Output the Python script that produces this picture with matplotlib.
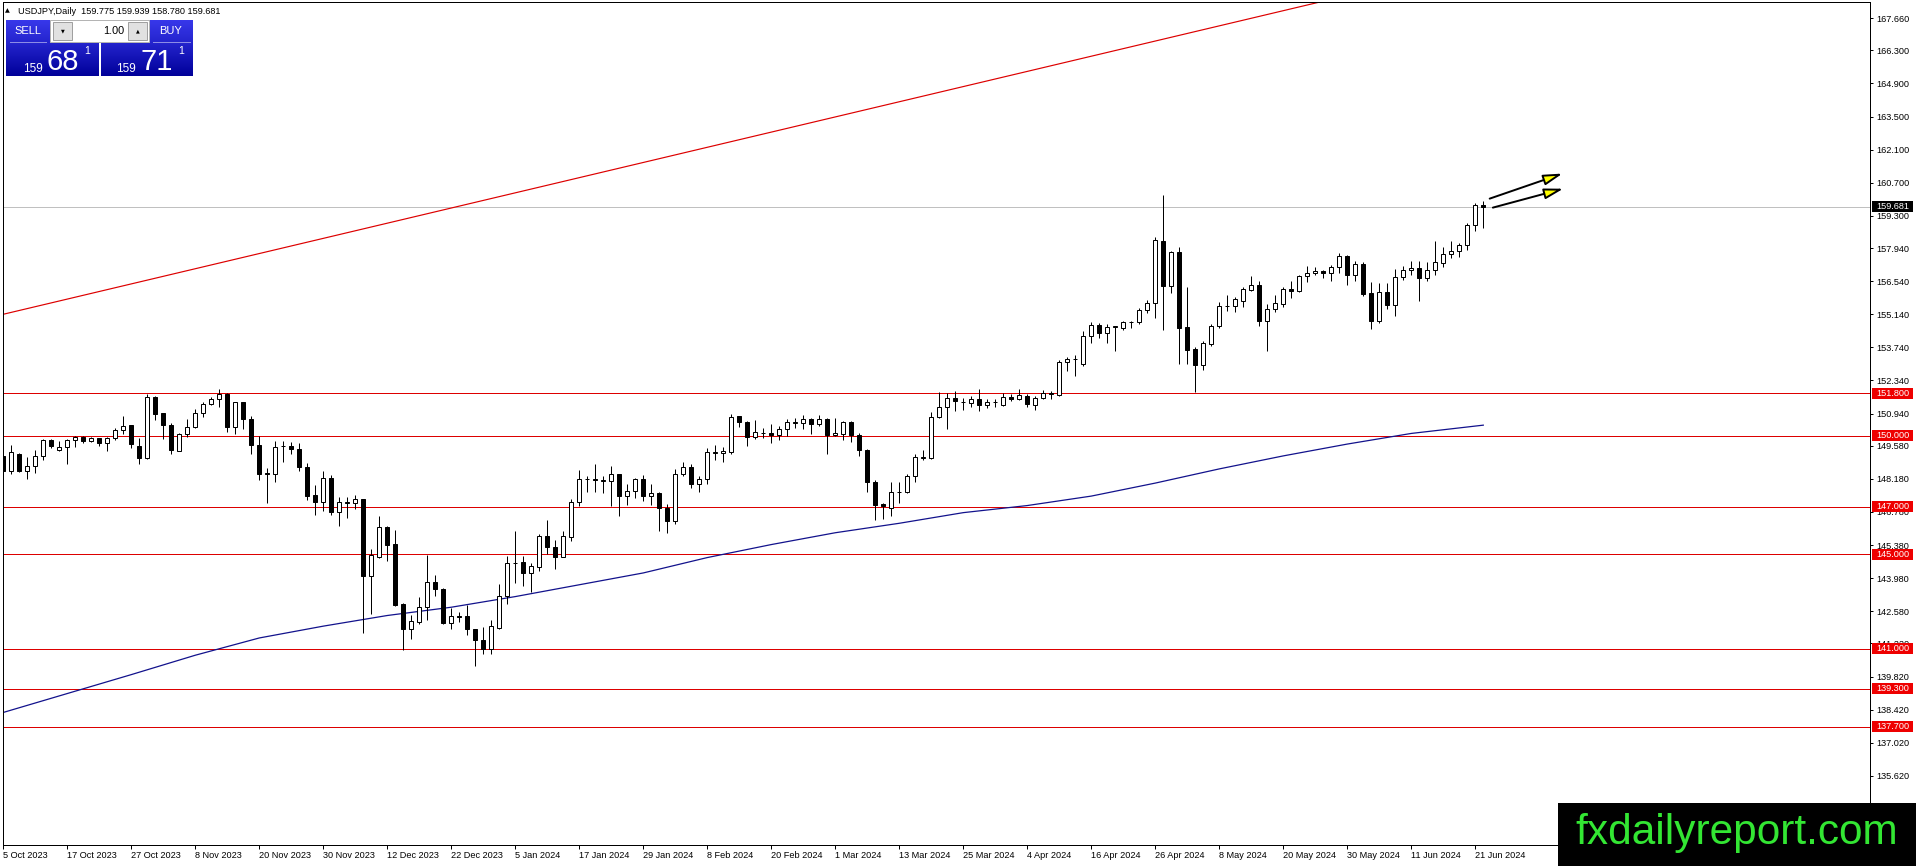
import numpy as np
import matplotlib
matplotlib.use("Agg")
import matplotlib.pyplot as plt
from matplotlib.patches import Rectangle

# USDJPY daily, 5 Oct 2023 .. 24 Jun 2024
opens = [149.14, 148.50, 149.25, 148.52, 148.71, 149.14, 149.84, 149.39, 149.53, 149.82,
         149.96, 149.79, 149.89, 149.70, 149.92, 150.23, 150.44, 149.58, 149.05, 151.65,
         150.95, 150.47, 149.36, 150.08, 150.38, 150.97, 151.36, 151.54, 151.78, 150.38,
         151.41, 150.73, 149.62, 148.42, 148.38, 149.55, 149.58, 149.44, 148.67, 147.50,
         147.22, 148.21, 146.77, 147.17, 147.15, 147.33, 144.08, 144.89, 146.16, 145.42,
         142.90, 141.82, 142.13, 142.74, 143.80, 143.54, 142.10, 142.36, 142.37, 141.81,
         141.38, 140.99, 141.89, 143.23, 144.61, 144.65, 144.21, 144.44, 145.76, 145.28,
         144.86, 145.73, 147.19, 148.16, 148.18, 148.09, 148.09, 148.38, 147.47, 147.67,
         148.16, 147.47, 147.60, 146.96, 146.38, 148.39, 148.67, 147.97, 148.16, 149.29,
         149.27, 149.32, 150.82, 150.58, 149.97, 150.10, 150.13, 150.03, 150.30, 150.56,
         150.52, 150.72, 150.51, 150.72, 150.03, 150.06, 150.58, 150.03, 149.42, 148.05,
         147.10, 146.96, 147.61, 147.61, 148.29, 149.08, 149.07, 150.79, 151.23, 151.61,
         151.44, 151.37, 151.54, 151.29, 151.41, 151.31, 151.65, 151.57, 151.70, 151.31,
         151.60, 151.78, 151.74, 153.11, 153.24, 153.04, 154.24, 154.70, 154.35, 154.62,
         154.56, 154.80, 154.80, 155.32, 155.60, 158.25, 156.32, 157.79, 154.59, 153.65,
         153.00, 153.88, 154.63, 155.50, 155.49, 155.72, 156.18, 156.38, 154.87, 155.36,
         155.57, 156.21, 156.14, 156.74, 156.88, 156.98, 156.88, 157.15, 157.60, 156.79,
         157.26, 156.04, 154.84, 156.10, 155.55, 156.70, 157.01, 157.10, 156.66, 157.01,
         157.31, 157.69, 157.80, 158.07, 158.91, 159.775]
highs = [149.17, 149.59, 149.28, 149.11, 149.39, 149.87, 149.87, 149.80, 149.87, 149.99,
         149.99, 149.96, 149.92, 149.94, 150.34, 150.83, 150.47, 149.89, 151.75, 151.68,
         150.97, 150.55, 150.10, 150.72, 151.12, 151.44, 151.65, 151.96, 151.79, 151.45,
         151.44, 150.83, 149.98, 148.63, 149.76, 149.76, 149.72, 149.69, 148.87, 147.92,
         148.52, 148.35, 147.43, 147.40, 147.49, 147.34, 145.21, 146.61, 146.19, 146.02,
         142.92, 142.42, 143.19, 144.97, 144.11, 143.57, 142.70, 142.56, 142.84, 141.84,
         141.92, 142.20, 143.73, 144.92, 145.97, 144.93, 144.63, 145.85, 146.44, 145.59,
         145.97, 147.33, 148.56, 148.31, 148.81, 148.28, 148.74, 148.39, 147.97, 148.21,
         148.35, 147.97, 147.63, 147.12, 148.59, 148.90, 148.81, 148.28, 149.48, 149.60,
         149.51, 150.93, 150.85, 150.61, 150.68, 150.32, 150.48, 150.41, 150.72, 150.76,
         150.90, 150.75, 150.90, 150.75, 150.76, 150.62, 150.62, 150.10, 149.45, 148.15,
         147.16, 148.05, 148.05, 148.40, 149.21, 149.38, 151.00, 151.86, 151.82, 151.89,
         151.61, 151.68, 151.99, 151.57, 151.54, 151.79, 151.75, 151.99, 151.75, 151.70,
         151.94, 151.91, 153.21, 153.32, 153.43, 154.45, 154.80, 154.76, 154.73, 154.66,
         154.84, 154.87, 155.39, 155.76, 158.39, 160.19, 157.83, 157.97, 156.28, 153.74,
         154.00, 154.73, 155.65, 155.97, 155.88, 156.31, 156.77, 156.56, 155.57, 155.97,
         156.31, 156.56, 156.80, 157.19, 157.12, 157.01, 157.22, 157.72, 157.65, 157.40,
         157.34, 156.49, 156.48, 156.45, 157.07, 157.19, 157.41, 157.38, 157.34, 158.25,
         157.97, 158.25, 158.14, 158.98, 159.83, 159.939]
lows = [148.29, 148.38, 148.47, 148.18, 148.42, 148.97, 149.48, 149.36, 148.80, 149.51,
        149.70, 149.73, 149.56, 149.35, 149.82, 150.08, 149.48, 148.79, 149.03, 150.66,
        149.87, 149.22, 149.34, 149.94, 150.34, 150.81, 151.29, 151.23, 150.16, 150.07,
        150.27, 149.22, 148.12, 147.15, 148.04, 148.88, 149.22, 148.52, 147.29, 146.65,
        146.84, 146.65, 146.20, 146.51, 146.89, 141.67, 142.46, 144.82, 144.72, 142.80,
        140.96, 141.40, 142.06, 142.23, 143.22, 142.03, 141.85, 142.13, 141.57, 140.25,
        140.79, 140.79, 141.85, 142.87, 143.79, 143.64, 143.40, 144.29, 145.00, 144.35,
        144.86, 145.56, 147.05, 147.64, 147.64, 147.60, 147.01, 146.62, 147.08, 147.39,
        147.25, 147.08, 145.99, 145.90, 146.26, 148.28, 147.81, 147.64, 147.97, 148.98,
        148.90, 149.22, 150.37, 149.55, 149.86, 149.90, 149.70, 149.84, 150.01, 150.34,
        150.30, 150.06, 150.41, 149.21, 150.01, 149.84, 149.73, 149.14, 147.61, 146.45,
        146.48, 146.62, 147.16, 147.58, 148.04, 148.97, 149.00, 150.75, 150.27, 151.05,
        151.09, 151.23, 151.05, 151.19, 151.23, 151.26, 151.47, 151.51, 151.20, 151.07,
        151.56, 151.56, 151.70, 152.73, 152.55, 152.97, 153.93, 154.14, 153.91, 153.57,
        154.48, 154.56, 154.73, 155.18, 154.98, 154.49, 156.03, 153.04, 153.04, 151.84,
        152.79, 153.81, 154.56, 155.26, 155.22, 155.46, 156.14, 154.66, 153.57, 155.22,
        155.46, 155.83, 156.10, 156.49, 156.80, 156.66, 156.56, 156.87, 156.38, 156.56,
        155.93, 154.52, 154.76, 155.35, 155.08, 156.59, 156.80, 155.69, 156.53, 156.81,
        157.12, 157.50, 157.57, 157.86, 158.65, 158.780]
closes = [148.50, 149.32, 148.50, 148.73, 149.14, 149.84, 149.56, 149.53, 149.84, 149.96,
          149.77, 149.89, 149.69, 149.92, 150.25, 150.42, 149.65, 149.05, 151.65, 150.92,
          150.45, 149.39, 150.08, 150.38, 150.97, 151.36, 151.54, 151.78, 150.38, 151.41,
          150.69, 149.60, 148.37, 148.40, 149.52, 149.57, 149.44, 148.66, 147.47, 147.22,
          148.21, 146.79, 147.19, 147.19, 147.33, 144.08, 144.96, 146.13, 145.38, 142.84,
          141.82, 142.16, 142.74, 143.80, 143.54, 142.09, 142.39, 142.35, 141.81, 141.38,
          140.99, 141.96, 143.23, 144.60, 144.63, 144.21, 144.49, 145.76, 145.28, 144.89,
          145.76, 147.19, 148.18, 148.18, 148.11, 148.11, 148.38, 147.47, 147.67, 148.18,
          147.47, 147.57, 146.94, 146.38, 148.39, 148.67, 147.97, 148.16, 149.31, 149.31,
          149.36, 150.79, 150.58, 149.97, 150.18, 150.11, 150.03, 150.30, 150.58, 150.58,
          150.72, 150.51, 150.69, 150.03, 150.13, 150.58, 150.03, 149.39, 148.04, 147.06,
          147.02, 147.61, 147.63, 148.32, 149.11, 149.10, 150.79, 151.23, 151.61, 151.47,
          151.45, 151.54, 151.29, 151.41, 151.43, 151.65, 151.54, 151.71, 151.34, 151.60,
          151.83, 151.80, 153.14, 153.25, 153.25, 154.24, 154.70, 154.34, 154.62, 154.63,
          154.80, 154.81, 155.32, 155.62, 158.28, 156.32, 157.79, 154.55, 153.63, 153.00,
          153.91, 154.66, 155.49, 155.51, 155.77, 156.19, 156.38, 154.87, 155.36, 155.60,
          156.21, 156.14, 156.74, 156.88, 156.98, 156.88, 157.15, 157.60, 156.79, 157.26,
          156.00, 154.84, 156.10, 155.55, 156.73, 157.01, 157.10, 156.66, 157.01, 157.36,
          157.69, 157.80, 158.07, 158.91, 159.77, 159.681]

date_labels = ["5 Oct 2023", "17 Oct 2023", "27 Oct 2023", "8 Nov 2023", "20 Nov 2023",
               "30 Nov 2023", "12 Dec 2023", "22 Dec 2023", "5 Jan 2024", "17 Jan 2024",
               "29 Jan 2024", "8 Feb 2024", "20 Feb 2024", "1 Mar 2024", "13 Mar 2024",
               "25 Mar 2024", "4 Apr 2024", "16 Apr 2024", "26 Apr 2024", "8 May 2024",
               "20 May 2024", "30 May 2024", "11 Jun 2024", "21 Jun 2024"]

# moving average, read every 8 bars
ma_bar = [0, 8, 16, 24, 32, 40, 48, 56, 64, 72, 80, 88, 96, 104, 112, 120, 128,
          136, 144, 152, 160, 168, 176, 185]
ma_val = [138.30, 139.10, 139.90, 140.72, 141.45, 141.95, 142.40, 142.75, 143.20,
          143.70, 144.20, 144.85, 145.40, 145.90, 146.30, 146.75, 147.05, 147.45,
          148.00, 148.60, 149.15, 149.65, 150.10, 150.45]

levels = [151.8, 150.0, 147.0, 145.0, 141.0, 139.3, 137.7]
trend_pts = [(0, 155.14), (164, 168.30)]
last_price = 159.681
yticks = [167.66, 166.30, 164.90, 163.50, 162.10, 160.70, 159.30, 157.94, 156.54,
          155.14, 153.74, 152.34, 150.94, 149.58, 148.18, 146.78, 145.38, 143.98,
          142.58, 141.22, 139.82, 138.42, 137.02, 135.62, 134.22]
# hand drawn arrows: (start bar, start price, tip bar, tip price)
arrows = [(185.8, 160.03, 194.9, 161.09), (186.2, 159.65, 195.0, 160.45)]

plt.rcParams['font.family'] = ['Liberation Sans', 'DejaVu Sans']
W, H = 1916, 866
px = 0.72  # one pixel in points

fig = plt.figure(figsize=(W / 100, H / 100), dpi=100)
fig.patch.set_facecolor('white')
ax = fig.add_axes([2.5 / W, (H - 845) / H, (1870 - 2.5) / W, (845 - 2) / H])

n = len(opens)
idx = np.arange(n)
o = np.array(opens); c = np.array(closes)
hi = np.array(highs); lo = np.array(lows)
up = c >= o

# reference lines
for lvl in levels:
    ax.axhline(lvl, color='#dd0000', lw=px, zorder=1)
ax.axhline(last_price, color='#c0c0c0', lw=px, zorder=1)
ax.axline(trend_pts[0], trend_pts[1], color='#dd0000', lw=0.85, zorder=1)
ax.plot(ma_bar, ma_val, color='#12128c', lw=0.9, zorder=1.5)

# candles
ax.vlines(idx, lo, hi, color='black', lw=px, zorder=2)
body_lo = np.minimum(o, c)
body_h = np.maximum(np.abs(c - o), 0.005)
ax.bar(idx[up], body_h[up], bottom=body_lo[up], width=0.55, color='white',
       edgecolor='black', linewidth=px, zorder=3)
ax.bar(idx[~up], body_h[~up], bottom=body_lo[~up], width=0.55, color='black',
       edgecolor='black', linewidth=px, zorder=3)

for x0, y0, x1, y1 in arrows:
    ax.annotate('', xy=(x1, y1), xytext=(x0, y0),
                arrowprops=dict(arrowstyle='-|>,head_length=1.15,head_width=0.32',
                                fc='#ffff00', ec='black', lw=1.4,
                                shrinkA=0, shrinkB=0, mutation_scale=10),
                zorder=6)

ax.set_xlim(-0.1, 233.34)
ax.set_ylim(132.694, 168.346)

for s in ax.spines.values():
    s.set_color('black')
    s.set_linewidth(px)

ax.set_xticks(list(range(0, n, 8)))
ax.set_xticklabels(date_labels)
for lab in ax.get_xticklabels():
    lab.set_ha('left')
ax.tick_params(axis='x', direction='out', length=3, width=px, pad=1.5,
               labelsize=6.6, colors='black')

ax.set_yticks(yticks)
ax.set_yticklabels([f"{v:.3f}" for v in yticks])
ax.tick_params(axis='y', left=False, labelleft=False, right=True, labelright=True,
               direction='out', length=2.5, width=px, pad=2, labelsize=6.6)

# price labels on the right axis
ytr = ax.get_yaxis_transform()
bw = 41 / (1870 - 2.5)
bx = 1 + 2 / (1870 - 2.5)
bh = 11 / 23.645
for lvl in levels:
    ax.add_patch(Rectangle((bx, lvl - bh / 2), bw, bh, transform=ytr,
                           fc='#ee0000', ec='none', clip_on=False, zorder=5))
    ax.text(bx + bw / 2, lvl, f"{lvl:.3f}", transform=ytr, ha='center', va='center',
            fontsize=6.6, color='white', zorder=6, clip_on=False)
ax.add_patch(Rectangle((bx, last_price - bh / 2), bw, bh, transform=ytr,
                       fc='black', ec='none', clip_on=False, zorder=5))
ax.text(bx + bw / 2, last_price, f"{last_price:.3f}", transform=ytr, ha='center',
        va='center', fontsize=6.6, color='white', zorder=6, clip_on=False)

# overlay in pixel coordinates: header, trade panel, watermark
ov = fig.add_axes([0, 0, 1, 1], zorder=10)
ov.set_autoscale_on(False)
ov.set_xlim(0, W)
ov.set_ylim(H, 0)
ov.axis('off')
ov.patch.set_alpha(0)

ov.text(5, 11, "\u25b2", fontsize=4.5, va='center', ha='left',
        family=['DejaVu Sans'])
ov.text(18, 11, "USDJPY,Daily  159.775 159.939 158.780 159.681", fontsize=6.6,
        va='center', ha='left')

top_c = np.array([0.22, 0.22, 0.92])
bot_c = np.array([0.0, 0.0, 0.60])


def blue_block(x0, y0, x1, y1, t0=0.0, t1=1.0):
    g = np.linspace(t0, t1, 64)[:, None, None]
    img = top_c + (bot_c - top_c) * g
    ov.imshow(img, extent=(x0, x1, y1, y0), aspect='auto', interpolation='bilinear',
              zorder=1)


blue_block(6, 20, 50, 42, 0.0, 0.35)
blue_block(149, 20, 193, 42, 0.0, 0.35)
blue_block(6, 42, 99, 76, 0.35, 1.0)
blue_block(101, 42, 193, 76, 0.35, 1.0)
ov.plot([10, 46], [42, 42], color='#8c8ce6', lw=px, zorder=2)
ov.plot([153, 190], [42, 42], color='#8c8ce6', lw=px, zorder=2)

# lot box
ov.add_patch(Rectangle((50, 20), 99, 22, fc='white', ec='#b4b4b4', lw=px, zorder=2))
ov.add_patch(Rectangle((53, 22), 19, 18, fc='#e1e1e1', ec='#a0a0a0', lw=px, zorder=3))
ov.add_patch(Rectangle((128, 22), 19, 18, fc='#e1e1e1', ec='#a0a0a0', lw=px, zorder=3))
ov.text(62.5, 31, "\u25bc", fontsize=3.5, ha='center', va='center', zorder=4,
        family=['DejaVu Sans'])
ov.text(137.5, 31, "\u25b2", fontsize=3.5, ha='center', va='center', zorder=4,
        family=['DejaVu Sans'])
ov.text(124, 31.5, "1.00", fontsize=7.8, ha='right', va='center', zorder=4)

ov.text(28, 31, "SELL", fontsize=8, color='white', ha='center', va='center', zorder=4)
ov.text(171, 31, "BUY", fontsize=8, color='white', ha='center', va='center', zorder=4)

ov.text(23, 72.5, "159", fontsize=8.5, color='white', ha='left', va='baseline', zorder=4)
ov.text(47, 70, "68", fontsize=21, color='white', ha='left', va='baseline', zorder=4)
ov.text(84, 54, "1", fontsize=7.5, color='white', ha='left', va='baseline', zorder=4)
ov.text(116, 72.5, "159", fontsize=8.5, color='white', ha='left', va='baseline', zorder=4)
ov.text(141, 70, "71", fontsize=21, color='white', ha='left', va='baseline', zorder=4)
ov.text(178, 54, "1", fontsize=7.5, color='white', ha='left', va='baseline', zorder=4)

# watermark
ov.add_patch(Rectangle((1558, 803), W - 1558, H - 803, fc='black', ec='none', zorder=5))
ov.text(1737, 833, "fxdailyreport.com", fontsize=30.5, color='#33e633',
        ha='center', va='center', zorder=6)

fig.savefig('out.png', dpi=100, facecolor='white')
